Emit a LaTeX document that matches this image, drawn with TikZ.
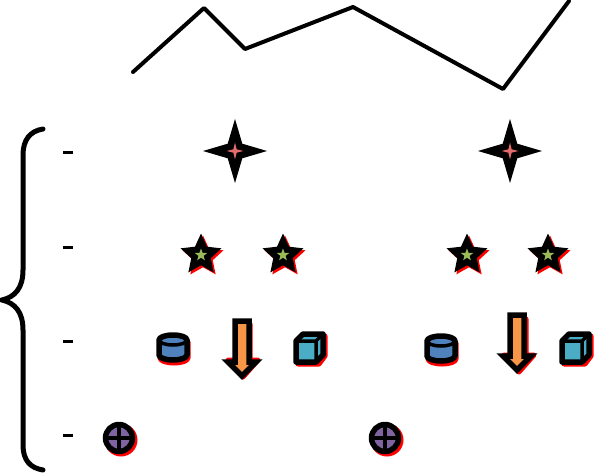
\documentclass[tikz,border=0pt]{standalone}
\usetikzlibrary{shapes.geometric}
\definecolor{pinkfill}{HTML}{E46C6C}
\definecolor{greenfill}{HTML}{9BBB59}
\definecolor{bluefill}{HTML}{4F81BD}
\definecolor{orangefill}{HTML}{F79646}
\definecolor{tealfill}{HTML}{4BACC6}
\definecolor{purplefill}{HTML}{8064A2}
\tikzset{
  x=1pt,y=-1pt,
  ink/.style={draw=black,line width=5.5pt,line join=round},
  shadowred/.style={draw=red,fill=red,line width=5pt,line join=round},
  thinline/.style={draw=black,line width=4pt,line join=round,line cap=round},
  tick/.style={draw=black,line width=3pt},
  bigstar/.style={star,star points=4,star point ratio=3.1,minimum size=64pt,inner sep=0pt,fill=black,draw=none},
  bigcore/.style={star,star points=4,star point ratio=3.6,minimum size=17pt,inner sep=0pt,fill=pinkfill,draw=none},
  fivestar/.style={star,star points=5,star point ratio=2.1,minimum size=43pt,inner sep=0pt},
  fivecore/.style={star,star points=5,star point ratio=2.4,minimum size=13pt,inner sep=0pt,fill=greenfill,draw=none},
}
\newcommand{\dnstar}[2]{%
  \node[fivestar,fill=red] at (#1+2,#2+2) {};
  \node[fivestar,fill=black] at (#1,#2) {};
  \node[fivecore] at (#1,#2) {};}
\newcommand{\dncyl}[2]{% centre
  \begin{scope}[shift={(#1,#2)}]
  \path[shadowred] (-13,-6) -- (-13,10) arc[x radius=14,y radius=5,start angle=180,end angle=0] -- (15,-6) -- cycle;
  \path[ink,fill=bluefill] (-14,-8) -- (-14,7) arc[x radius=14,y radius=5,start angle=180,end angle=0] -- (14,-8) arc[x radius=14,y radius=5,start angle=0,end angle=-180] -- cycle;
  \draw[ink,line width=3.5pt] (-14,-8) arc[x radius=14,y radius=5,start angle=180,end angle=0];
  \end{scope}}
\newcommand{\dncube}[2]{% centre
  \begin{scope}[shift={(#1,#2)}]
  \path[shadowred] (-12,-7) -- (-6,-13) -- (15,-13) -- (15,7) -- (9,15) -- (-12,15) -- cycle;
  \path[ink,fill=tealfill] (-14,-8) -- (-7,-15) -- (13,-15) -- (13,6) -- (6,13) -- (-14,13) -- cycle;
  \draw[ink,line width=3.5pt] (-14,-8) -- (6,-8) -- (6,13) (6,-8) -- (13,-15);
  \end{scope}}
\newcommand{\dnarrow}[3]{% centre x, top y, shadow offset
  \begin{scope}[shift={(#1,#2)}]
  \path[shadowred] (-7+#3,2+#3) -- (7+#3,2+#3) -- (7+#3,38+#3) -- (15+#3,38+#3) -- (0+#3,55+#3) -- (-15+#3,38+#3) -- (-7+#3,38+#3) -- cycle;
  \path[draw=black,line width=5.5pt,line join=miter,fill=orangefill] (-7,0) -- (7,0) -- (7,41) -- (14,41) -- (0,55) -- (-14,41) -- (-7,41) -- cycle;
  \end{scope}}
\newcommand{\dncirc}[2]{%
  \fill[red] (#1+2,#2+2) circle (16.5);
  \draw[ink,fill=purplefill] (#1,#2) circle (13.5);
  \draw[draw=black,line width=3.5pt] (#1-14,#2) -- (#1+14,#2) (#1,#2-14) -- (#1,#2+14);}
\begin{document}
\begin{tikzpicture}
\useasboundingbox (0,0) rectangle (594,473);
% top polyline
\draw[thinline] (133,72) -- (204,8) -- (245,49) -- (353,7) -- (503,89) -- (569,1);
% brace
\draw[draw=black,line width=5pt,line cap=round]
  (43,129) .. controls (30,131) and (23,140) .. (23,155) -- (23,270)
  .. controls (23,288) and (15,297) .. (2,300)
  .. controls (15,303) and (23,312) .. (23,330) -- (23,445)
  .. controls (23,460) and (30,468) .. (43,470);
% ticks
\draw[tick] (63,153) -- (73,153);
\draw[tick] (63,247) -- (73,247);
\draw[tick] (63,341) -- (73,341);
\draw[tick] (63,435) -- (73,435);
% four-point stars
\node[bigstar] (sa) at (235,151) {};
\node[bigcore] (sac) at (235,151) {};
\node[bigstar] (sb) at (510,151) {};
\node[bigcore] (sbc) at (510,151) {};
% five-point stars
\dnstar{201}{255}
\dnstar{283}{255}
\dnstar{467}{255}
\dnstar{548}{255}
% cylinders, arrows, cubes
\dncyl{173}{348}
\dnarrow{242}{321}{1}
\dncube{310}{349}
\dncyl{441}{349}
\dnarrow{517}{315}{2}
\dncube{576}{349}
% circles
\dncirc{119}{438}
\dncirc{385}{438}
\end{tikzpicture}
\end{document}
